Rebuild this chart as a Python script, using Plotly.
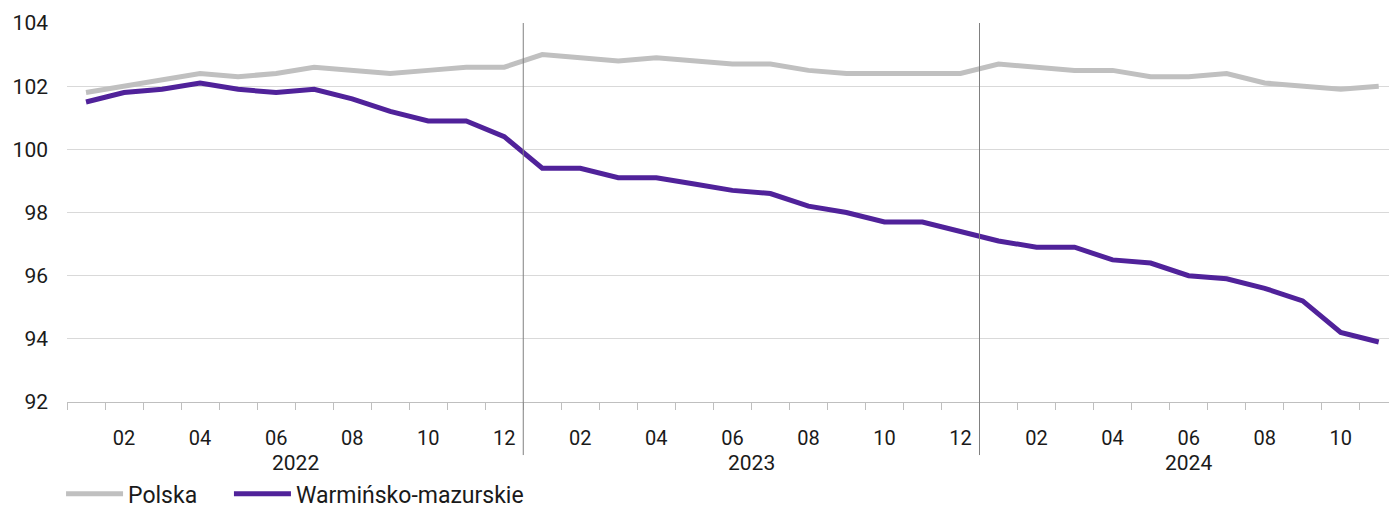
import plotly.graph_objects as go

years = ["2022", "2023", "2024"]
months = ["01", "02", "03", "04", "05", "06", "07", "08", "09", "10", "11", "12"]
n_points = 35
polska = [101.8, 102.0, 102.2, 102.4, 102.3, 102.4, 102.6, 102.5, 102.4, 102.5, 102.6, 102.6,
          103.0, 102.9, 102.8, 102.9, 102.8, 102.7, 102.7, 102.5, 102.4, 102.4, 102.4, 102.4,
          102.7, 102.6, 102.5, 102.5, 102.3, 102.3, 102.4, 102.1, 102.0, 101.9, 102.0]
warm = [101.5, 101.8, 101.9, 102.1, 101.9, 101.8, 101.9, 101.6, 101.2, 100.9, 100.9, 100.4,
        99.4, 99.4, 99.1, 99.1, 98.9, 98.7, 98.6, 98.2, 98.0, 97.7, 97.7, 97.4,
        97.1, 96.9, 96.9, 96.5, 96.4, 96.0, 95.9, 95.6, 95.2, 94.2, 93.9]

x = list(range(n_points))
month_lab = [months[i % 12] for i in x]
year_lab = [years[i // 12] for i in x]

tickvals = [i for i in x if int(month_lab[i]) % 2 == 0]
ticktext = [month_lab[i] for i in tickvals]

FONT = "Roboto"
TXT = "#1a1a1a"
fig = go.Figure()
fig.add_trace(go.Scatter(x=x, y=polska, mode="lines", name="Polska",
                         line=dict(color="#c0c0c0", width=5), legend="legend"))
fig.add_trace(go.Scatter(x=x, y=warm, mode="lines", name="Warmińsko-mazurskie",
                         line=dict(color="#50229a", width=5), legend="legend2"))

# year separators and year labels
for yi, yr in enumerate(years):
    idx = [i for i in x if year_lab[i] == yr]
    start, end = idx[0] - 0.5, idx[-1] + 0.5
    if yi > 0:
        fig.add_shape(type="line", xref="x", yref="paper", x0=start, x1=start,
                      y0=-0.14, y1=1, line=dict(color="#808080", width=1))
    fig.add_annotation(x=(start + end) / 2, y=-0.161, xref="x", yref="paper",
                       text=yr, showarrow=False, yanchor="middle",
                       font=dict(family=FONT, size=21, color=TXT))

legend_common = dict(orientation="h", y=0.0355, yref="container",
                     xanchor="left", yanchor="middle",
                     font=dict(family=FONT, size=23, color=TXT),
                     itemwidth=57, tracegroupgap=0)

fig.update_layout(
    width=1389, height=512,
    margin=dict(l=67, r=0, t=23, b=110, autoexpand=False),
    paper_bgcolor="white", plot_bgcolor="white",
    showlegend=True,
    legend=dict(x=-0.0045, **legend_common),
    legend2=dict(x=0.1225, **legend_common),
    xaxis=dict(range=[-0.5, 34.27], tickmode="array", tickvals=tickvals, ticktext=ticktext,
               ticks="", showgrid=False, zeroline=False, showline=True,
               linecolor="#bfbfbf", linewidth=1, ticklabelstandoff=18,
               tickfont=dict(family=FONT, size=20, color=TXT),
               minor=dict(tickmode="linear", tick0=-0.5, dtick=1, ticks="outside",
                          ticklen=7, tickcolor="#bfbfbf", tickwidth=1, showgrid=False)),
    yaxis=dict(range=[92, 104], dtick=2, showgrid=True, gridcolor="#d9d9d9", gridwidth=1,
               zeroline=False, ticks="", ticklabelstandoff=18,
               tickfont=dict(family=FONT, size=21, color=TXT)),
)

fig.write_html("out.html", config={"displayModeBar": False},
               post_script="document.body.style.margin='0';document.body.style.overflow='hidden';")
